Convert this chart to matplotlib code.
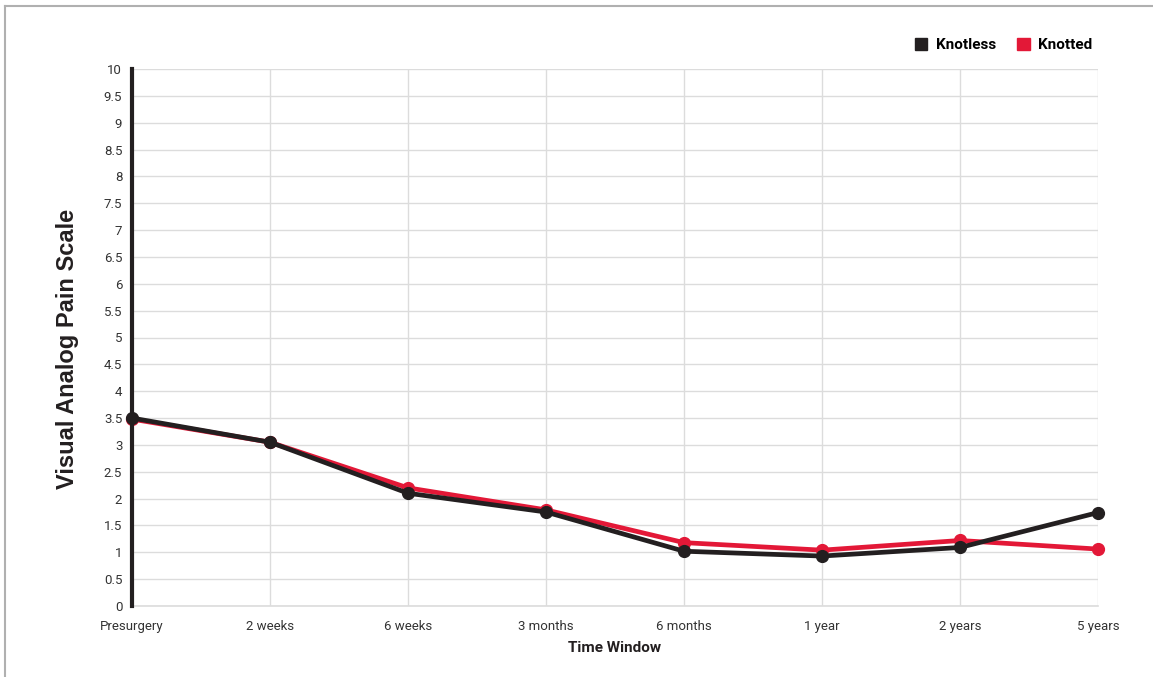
import matplotlib.pyplot as plt
from matplotlib.lines import Line2D
from matplotlib.patches import Patch

time_window = ['Presurgery', '2 weeks', '6 weeks', '3 months', '6 months',
               '1 year', '2 years', '5 years']
knotless = [3.50, 3.05, 2.10, 1.75, 1.02, 0.93, 1.09, 1.74]
knotted = [3.48, 3.05, 2.20, 1.79, 1.18, 1.04, 1.22, 1.06]
y_ticks = [i * 0.5 for i in range(21)]

plt.rcParams['font.family'] = ['Roboto', 'DejaVu Sans']

black = '#231f20'
red = '#e31837'
grid = '#dcdcdc'

fig = plt.figure(figsize=(11.53, 6.77), dpi=100)
W, H = 1153, 677
axs = fig.add_axes([132 / W, 1 - 606 / H, (1098 - 132) / W, (606 - 69) / H])

x = list(range(len(time_window)))
axs.plot(x, knotted, color=red, lw=3.4, marker='o', ms=8.5, zorder=3, clip_on=False)
axs.plot(x, knotless, color=black, lw=3.4, marker='o', ms=8.5, zorder=4, clip_on=False)

axs.set_xlim(0, len(time_window) - 1)
axs.set_ylim(0, 10)
axs.set_xticks(x)
axs.set_xticklabels(time_window, fontsize=9.5, color='#333333')
axs.set_yticks(y_ticks)
axs.set_yticklabels([f'{v:g}' for v in y_ticks], fontsize=9.5, color='#333333')
axs.tick_params(length=0, pad=7)
axs.tick_params(axis='x', pad=10)

axs.grid(True, color=grid, lw=1)
axs.set_axisbelow(True)
for s in ['top', 'right']:
    axs.spines[s].set_visible(False)
axs.spines['bottom'].set_color(grid)
axs.spines['bottom'].set_linewidth(1.2)
axs.spines['left'].set_color(black)
axs.spines['left'].set_linewidth(3)
axs.spines['left'].set_zorder(5)

axs.set_xlabel('Time Window', fontsize=11, fontweight='bold', color=black, labelpad=6)
axs.set_ylabel('Visual Analog Pain Scale', fontsize=17, fontweight='bold',
               color=black, family=['Liberation Sans', 'DejaVu Sans'])
axs.yaxis.set_label_coords(-0.055, 0.479)

handles = [Patch(color=black, label='Knotless'), Patch(color=red, label='Knotted')]
fig.legend(handles=handles, loc='center right', bbox_to_anchor=(1106 / W, 1 - 45 / H),
           ncol=2, frameon=False, handlelength=0.8, handleheight=0.8,
           handletextpad=0.55, columnspacing=1.4,
           prop={'weight': 'bold', 'size': 11})

# thin frame on the left and top edges
fig.add_artist(Line2D([5 / W, 5 / W], [0, 1 - 6 / H], color='#b0b0b0', lw=1.5))
fig.add_artist(Line2D([5 / W, 1], [1 - 6 / H, 1 - 6 / H], color='#b0b0b0', lw=1.5))

fig.savefig('out.png', dpi=100)
